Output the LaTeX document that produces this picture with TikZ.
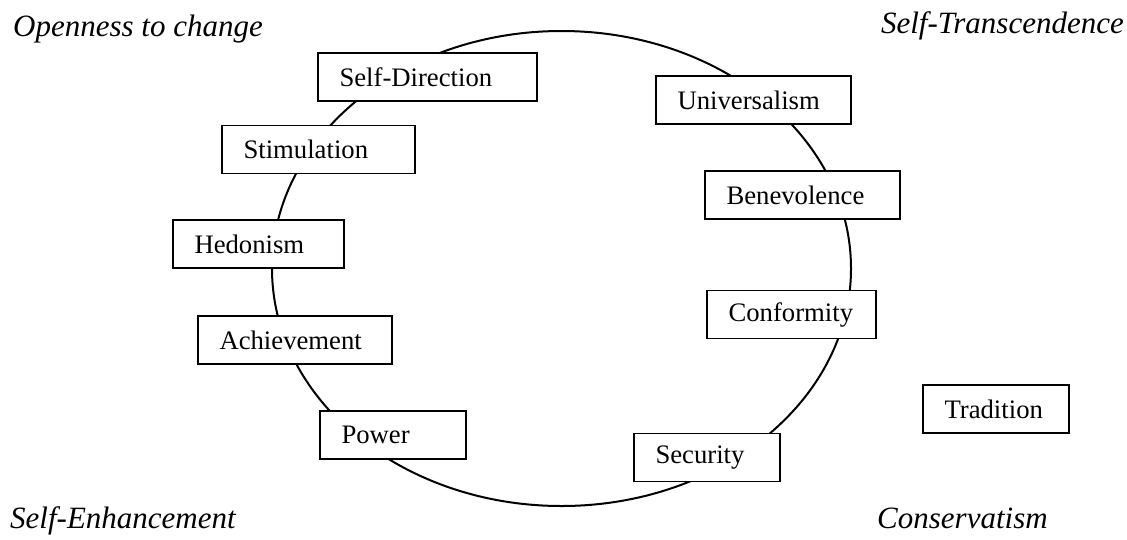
\documentclass[tikz,border=0pt]{standalone}
\usepackage{fontspec}
\setmainfont{Liberation Serif}
\begin{document}
\begin{tikzpicture}[x=1pt,y=-1pt,
  valbox/.style={draw, line width=1.9pt, fill=white, inner xsep=21.5pt, inner ysep=0pt,
    minimum height=48pt, align=left, font=\fontsize{26.7}{30}\selectfont},
  dimlabel/.style={inner sep=0pt, font=\fontsize{31}{36}\selectfont\itshape}]
\useasboundingbox (0,0) rectangle (1127,539);
% circumplex
\draw[line width=2pt] (561.5,268.5) ellipse [x radius=289.5pt, y radius=237.5pt];
% value boxes
\node[valbox, text width=176pt] (selfdir) at (427.5,77) {Self-Direction};
\node[valbox, text width=150pt] (stim) at (318.5,149.5) {Stimulation};
\node[valbox, text width=128pt] (hedon) at (258.5,244) {Hedonism};
\node[valbox, text width=151pt] (achieve) at (295,340) {Achievement};
\node[valbox, text width=103pt] (power) at (393,435) {Power};
\node[valbox, text width=152pt] (univ) at (753.5,100) {Universalism};
\node[valbox, text width=152pt] (benev) at (802.5,195) {Benevolence};
\node[valbox, text width=126pt] (conf) at (791.5,314.5) {Conformity};
\node[valbox, text width=103pt] (secur) at (707,457.5) {Security};
\node[valbox, text width=103pt] (trad) at (996,409) {Tradition};
% dimension labels
\node[dimlabel, anchor=base west] (open) at (13,36) {Openness to change};
\node[dimlabel, anchor=base east] (transc) at (1124,33) {Self-Transcendence};
\node[dimlabel, anchor=base west] (enh) at (10,528) {Self-Enhancement};
\node[dimlabel, anchor=base west] (cons) at (877,528) {Conservatism};
\end{tikzpicture}
\end{document}
